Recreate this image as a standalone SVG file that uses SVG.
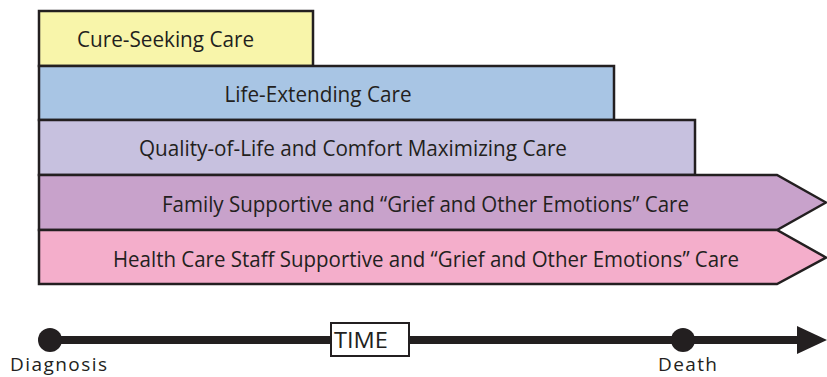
<svg xmlns="http://www.w3.org/2000/svg" width="827" height="377" viewBox="0 0 827 377">
<style>
.box{stroke:#231f20;stroke-width:2.5;stroke-linejoin:miter}
.lbl{font-family:"Open Sans","Liberation Sans",sans-serif;font-size:21px;fill:#231f20;text-anchor:middle}
.tl{font-family:"Open Sans","Liberation Sans",sans-serif;font-size:19px;fill:#231f20;text-anchor:middle}
</style>
<g id="cure">
<rect class="box" x="39" y="11" width="274" height="55" fill="#f8f5aa"/>
<text class="lbl" x="165.5" y="47" textLength="177" lengthAdjust="spacingAndGlyphs">Cure-Seeking Care</text>
</g>
<g id="life">
<rect class="box" x="39" y="66" width="575" height="54" fill="#a8c5e4"/>
<text class="lbl" x="318" y="102" textLength="187" lengthAdjust="spacingAndGlyphs">Life-Extending Care</text>
</g>
<g id="quality">
<rect class="box" x="39" y="120" width="656" height="55" fill="#c7c1df"/>
<text class="lbl" x="353" y="156" textLength="428" lengthAdjust="spacingAndGlyphs">Quality-of-Life and Comfort Maximizing Care</text>
</g>
<g id="family">
<polygon class="box" points="39,175 777,175 826,202.5 777,230 39,230" fill="#c8a2cb"/>
<text class="lbl" x="425.5" y="212" textLength="527" lengthAdjust="spacingAndGlyphs">Family Supportive and “Grief and Other Emotions” Care</text>
</g>
<g id="staff">
<polygon class="box" points="39,230 777,230 826,257.5 777,284 39,284" fill="#f4aecb"/>
<text class="lbl" x="426" y="267" textLength="626" lengthAdjust="spacingAndGlyphs">Health Care Staff Supportive and “Grief and Other Emotions” Care</text>
</g>
<g id="connectors">
<line x1="50" y1="340" x2="800" y2="340" stroke="#231f20" stroke-width="8"/>
<polygon points="797,326 827,340 797,354" fill="#231f20"/>
</g>
<g id="diagnosis">
<circle cx="50" cy="340" r="12" fill="#231f20"/>
<text class="tl" x="58.5" y="371" textLength="97" lengthAdjust="spacing">Diagnosis</text>
</g>
<g id="time">
<rect x="331" y="323" width="78" height="33" fill="#fff" stroke="#231f20" stroke-width="2"/>
<text class="tl" x="361" y="348" style="font-size:21px" textLength="54" lengthAdjust="spacingAndGlyphs">TIME</text>
</g>
<g id="death">
<circle cx="683" cy="340" r="12" fill="#231f20"/>
<text class="tl" x="687.5" y="371" textLength="59" lengthAdjust="spacing">Death</text>
</g>
</svg>
